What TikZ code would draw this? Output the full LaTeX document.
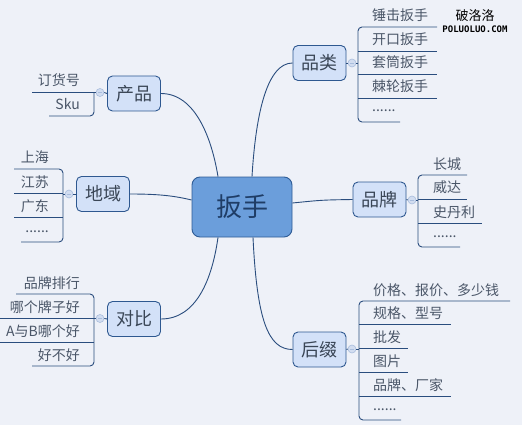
\documentclass[tikz,border=0pt]{standalone}
\usepackage{fontspec}
\setmainfont{Noto Sans CJK SC}
\newfontfamily\wmfont{DejaVu Sans Mono}
\definecolor{bg}{HTML}{EEF1F8}
\definecolor{linec}{HTML}{2A4D7E}
\definecolor{topicfill}{HTML}{D3E1F8}
\definecolor{topicborder}{HTML}{2E5890}
\definecolor{topictext}{HTML}{3A4656}
\definecolor{centerfill}{HTML}{6B9EDB}
\definecolor{centerborder}{HTML}{2F5C96}
\definecolor{centertext}{HTML}{1F3D66}
\definecolor{leaftext}{HTML}{4A5668}
\definecolor{foldfill}{HTML}{D2DDF0}
\definecolor{foldborder}{HTML}{A9BDDD}
\begin{document}
\begin{tikzpicture}[x=1pt,y=-1pt,
  topic/.style={draw=topicborder, fill=topicfill, rounded corners=5pt, minimum width=53pt, minimum height=35pt, inner sep=0pt, line width=0.9pt, text=topictext, font=\fontsize{18}{18}\selectfont},
  centraltopic/.style={draw=centerborder, fill=centerfill, rounded corners=8pt, minimum width=100pt, minimum height=60pt, inner sep=0pt, line width=0.9pt, text=centertext, font=\fontsize{26}{26}\selectfont},
  leaf/.style={inner sep=0pt, text=leaftext, font=\fontsize{14}{14}\selectfont},
  wire/.style={draw=linec, line width=0.9pt},
  fold/.style={circle, draw=foldborder, fill=foldfill, minimum size=8pt, inner sep=0pt, line width=0.6pt,
    path picture={\draw[foldborder, line width=0.6pt] ([xshift=-2pt]path picture bounding box.center) -- ([xshift=2pt]path picture bounding box.center);}}
]
\useasboundingbox[fill=bg] (0,0) rectangle (522,425);

% watermark
\node[inner sep=0pt, font=\fontsize{13}{13}\selectfont] (wm1) at (475,16) {破洛洛};
\node[inner sep=0pt, font=\wmfont\bfseries\fontsize{9}{9}\selectfont] (wm2) at (475,29) {POLUOLUO.COM};

% central and main topics
\node[centraltopic] (C) at (242,207) {扳手};
\node[topic] (T1) at (319.5,63) {品类};
\node[topic] (T2) at (379.5,199.5) {品牌};
\node[topic] (T3) at (319.5,349.5) {后缀};
\node[topic] (T4) at (134,93.5) {产品};
\node[topic] (T5) at (103,194) {地域};
\node[topic] (T6) at (134,319) {对比};

% main connectors
\draw[wire] ([xshift=10pt]C.north) .. controls (256,110) and (268,63) .. (T1.west);
\draw[wire] ([yshift=4pt]C.east) .. controls (322,200) .. (T2.west);
\draw[wire] ([xshift=11pt]C.south) .. controls (257,320) and (268,349.5) .. (T3.west);
\draw[wire] ([xshift=-24pt]C.north) .. controls (212,140) and (196,93.5) .. (T4.east);
\draw[wire] ([yshift=7pt]C.west) .. controls (175,196) and (160,194) .. (T5.east);
\draw[wire] ([xshift=-24pt]C.south) .. controls (212,280) and (196,319) .. (T6.east);

% ---------- 品类 ----------
\node[fold] (F1) at (352,63) {};
\draw[wire] (T1.east) -- (F1.west);
\draw[wire] (F1.east) -- (358,63);
\draw[wire, rounded corners=4pt] (437,27) -- (358,27) -- (358,122) -- (400,122);
\draw[wire] (358,51) -- (437,51);
\draw[wire] (358,74) -- (437,74);
\draw[wire] (358,98) -- (437,98);
\node[leaf, anchor=base west] (a1) at (372,21) {锤击扳手};
\node[leaf, anchor=base west] (a2) at (372,45) {开口扳手};
\node[leaf, anchor=base west] (a3) at (372,68) {套筒扳手};
\node[leaf, anchor=base west] (a4) at (372,92) {棘轮扳手};
\node[leaf, anchor=base west] (a5) at (372,112) {......};

% ---------- 品牌 ----------
\node[fold] (F2) at (412,200) {};
\draw[wire] (T2.east) -- (F2.west);
\draw[wire] (F2.east) -- (418,200);
\draw[wire, rounded corners=4pt] (467,175) -- (418,175) -- (418,247) -- (460,247);
\draw[wire] (418,199) -- (467,199);
\draw[wire] (418,223) -- (482,223);
\node[leaf, anchor=base west] (b1) at (433,169) {长城};
\node[leaf, anchor=base west] (b2) at (433,193) {威达};
\node[leaf, anchor=base west] (b3) at (433,217) {史丹利};
\node[leaf, anchor=base west] (b4) at (433,237) {......};

% ---------- 后缀 ----------
\node[fold] (F3) at (352,349) {};
\draw[wire] (T3.east) -- (F3.west);
\draw[wire] (F3.east) -- (359,349);
\draw[wire, rounded corners=4pt] (510,301) -- (359,301) -- (359,420) -- (401,420);
\draw[wire] (359,324) -- (451,324);
\draw[wire] (359,348) -- (408,348);
\draw[wire] (359,372) -- (408,372);
\draw[wire] (359,396) -- (451,396);
\node[leaf, anchor=base west] (c1) at (373,295) {价格、报价、多少钱};
\node[leaf, anchor=base west] (c2) at (373,318) {规格、型号};
\node[leaf, anchor=base west] (c3) at (373,342) {批发};
\node[leaf, anchor=base west] (c4) at (373,366) {图片};
\node[leaf, anchor=base west] (c5) at (373,390) {品牌、厂家};
\node[leaf, anchor=base west] (c6) at (373,410) {......};

% ---------- 产品 ----------
\node[fold] (F4) at (100,92.5) {};
\draw[wire] (T4.west) -- (F4.east);
\draw[wire] (F4.west) -- (32,92.5);
\draw[wire, rounded corners=4pt] (94,92.5) -- (94,116) -- (49,116);
\node[leaf, anchor=base east] (d1) at (80,86) {订货号};
\node[leaf, anchor=base east] (d2) at (80,110) {Sku};

% ---------- 地域 ----------
\node[fold] (F5) at (69,194) {};
\draw[wire] (T5.west) -- (F5.east);
\draw[wire] (F5.west) -- (63,194);
\draw[wire, rounded corners=4pt] (14,169) -- (63,169) -- (63,242) -- (21,242);
\draw[wire] (14,193) -- (63,193);
\draw[wire] (14,217) -- (63,217);
\node[leaf, anchor=base east] (e1) at (49,163) {上海};
\node[leaf, anchor=base east] (e2) at (49,187) {江苏};
\node[leaf, anchor=base east] (e3) at (49,211) {广东};
\node[leaf, anchor=base east] (e4) at (49,232) {......};

% ---------- 对比 ----------
\node[fold] (F6) at (100,318.5) {};
\draw[wire] (T6.west) -- (F6.east);
\draw[wire] (F6.west) -- (94,318.5);
\draw[wire, rounded corners=4pt] (16,294) -- (94,294) -- (94,366) -- (32,366);
\draw[wire] (0,318) -- (94,318);
\draw[wire] (0,342) -- (94,342);
\node[leaf, anchor=base east] (f1) at (80,288) {品牌排行};
\node[leaf, anchor=base east] (f2) at (80,312) {哪个牌子好};
\node[leaf, anchor=base east] (f3) at (80,336) {A与B哪个好};
\node[leaf, anchor=base east] (f4) at (80,360) {好不好};
\end{tikzpicture}
\end{document}
